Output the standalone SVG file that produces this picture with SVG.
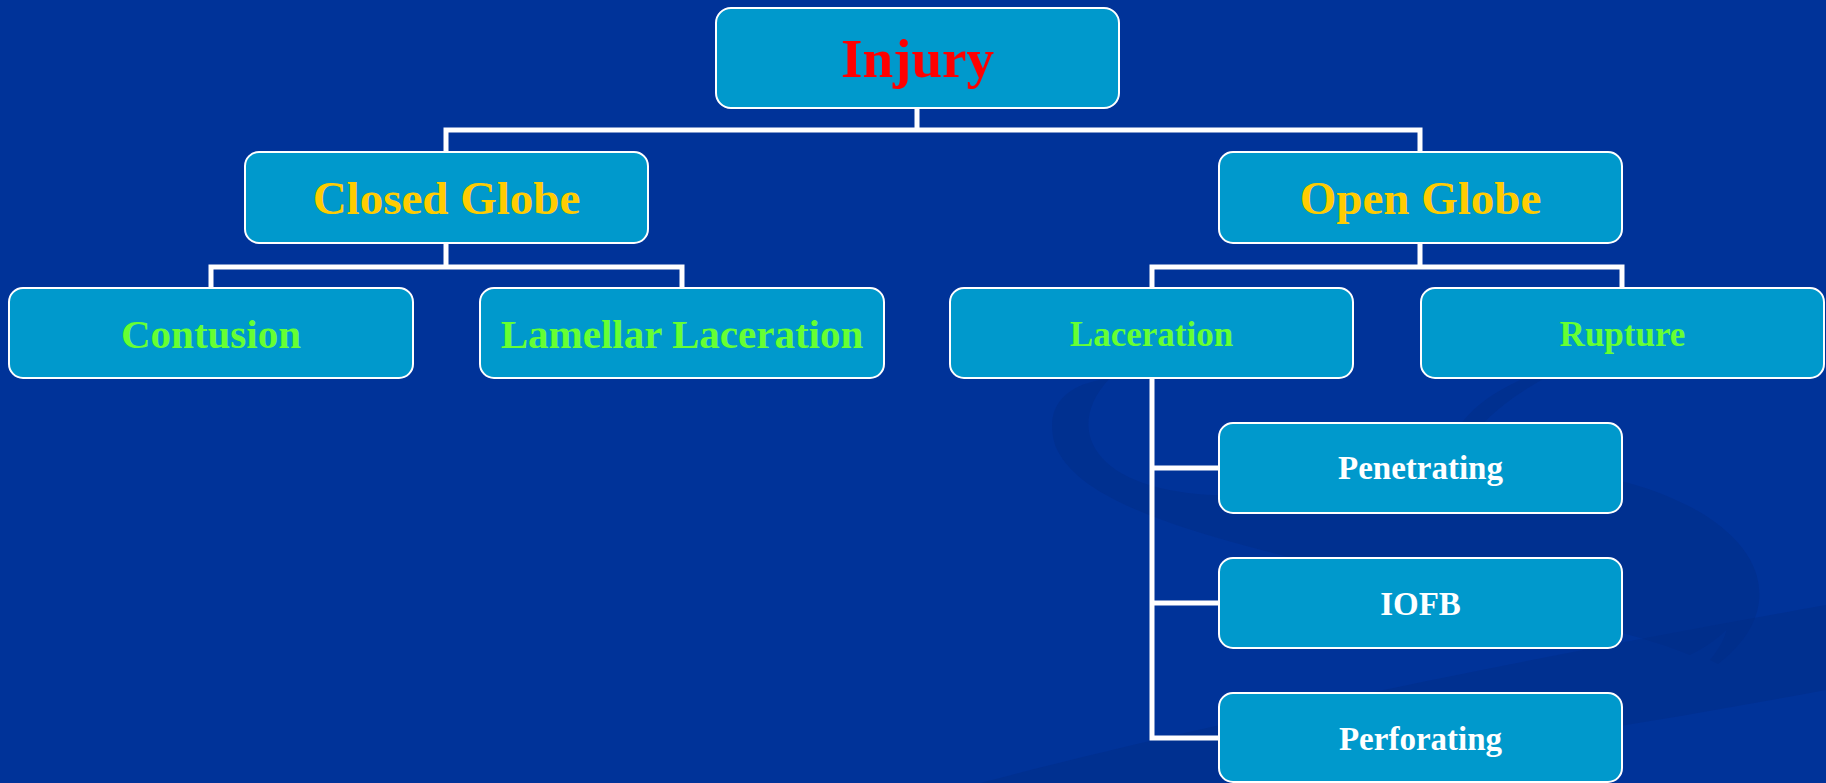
<svg xmlns="http://www.w3.org/2000/svg" width="1826" height="783" viewBox="0 0 1826 783">
<style>
.box{fill:#0099CC;stroke:#FFFFFF;stroke-width:2}
.conn{fill:none;stroke:#FFFFFF;stroke-width:5;stroke-linejoin:miter;stroke-linecap:square}
text{font-family:"Liberation Serif","Times New Roman",serif;font-weight:bold;text-anchor:middle}
.t1{fill:#FF0000;font-size:55px}
.t2{fill:#FFCC00;font-size:47px}
.t3{fill:#66FF33;font-size:41px}
.t4{fill:#66FF33;font-size:35px}
.t5{fill:#FFFFFF;font-size:33px}
.sw{fill:#002d85;opacity:0.45}
</style>
<rect x="0" y="0" width="1826" height="783" fill="#003399"/>
<g id="background-swoosh">
<path class="sw" d="M1110 378 C1060 385 1045 410 1055 445 C1075 495 1160 525 1300 560 C1450 595 1620 625 1690 655 C1730 635 1755 605 1740 575 C1710 525 1620 495 1520 475 C1700 515 1765 595 1710 660 L1718 664 C1795 605 1765 520 1625 482 C1460 440 1300 520 1160 488 C1085 470 1070 420 1110 378 Z"/>
<path class="sw" d="M980 783 C1220 720 1520 660 1826 605 L1826 690 C1610 730 1410 760 1220 783 Z"/>
<path class="sw" d="M1445 455 C1455 420 1485 395 1525 378 L1545 378 C1505 400 1475 425 1460 458 Z"/>
</g>
<g id="connectors">
<path class="conn" d="M917 108 V130 M446 152 V130 H1420 V152"/>
<path class="conn" d="M446 243 V267 M211 288 V267 H682 V288"/>
<path class="conn" d="M1420 243 V267 M1152 288 V267 H1622 V288"/>
<path class="conn" d="M1152 378 V738 H1219 M1152 468 H1219 M1152 603 H1219"/>
</g>
<g id="node-injury"><rect class="box" x="716" y="8" width="403" height="100" rx="15"/><text class="t1" x="917.5" y="77">Injury</text></g>
<g id="node-closed-globe"><rect class="box" x="245" y="152" width="403" height="91" rx="14"/><text class="t2" x="446.5" y="214">Closed Globe</text></g>
<g id="node-open-globe"><rect class="box" x="1219" y="152" width="403" height="91" rx="14"/><text class="t2" x="1420.5" y="214">Open Globe</text></g>
<g id="node-contusion"><rect class="box" x="9" y="288" width="404" height="90" rx="14"/><text class="t3" x="211" y="348">Contusion</text></g>
<g id="node-lamellar-laceration"><rect class="box" x="480" y="288" width="404" height="90" rx="14"/><text class="t3" x="682" y="348">Lamellar Laceration</text></g>
<g id="node-laceration"><rect class="box" x="950" y="288" width="403" height="90" rx="14"/><text class="t4" x="1151.5" y="346">Laceration</text></g>
<g id="node-rupture"><rect class="box" x="1421" y="288" width="403" height="90" rx="14"/><text class="t4" x="1622.5" y="346">Rupture</text></g>
<g id="node-penetrating"><rect class="box" x="1219" y="423" width="403" height="90" rx="14"/><text class="t5" x="1420.5" y="479">Penetrating</text></g>
<g id="node-iofb"><rect class="box" x="1219" y="558" width="403" height="90" rx="14"/><text class="t5" x="1420.5" y="615">IOFB</text></g>
<g id="node-perforating"><rect class="box" x="1219" y="693" width="403" height="89" rx="14"/><text class="t5" x="1420.5" y="750">Perforating</text></g>
</svg>
